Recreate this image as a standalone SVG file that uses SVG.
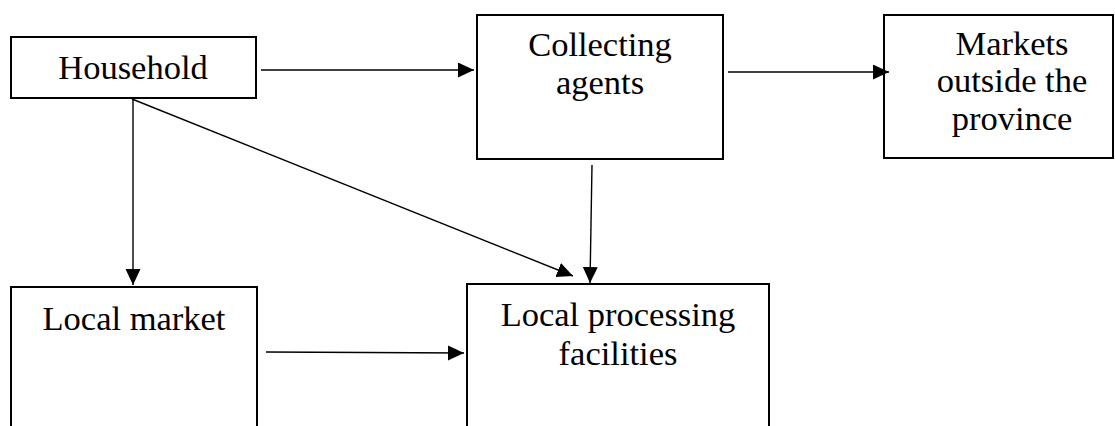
<svg xmlns="http://www.w3.org/2000/svg" width="1115" height="426" viewBox="0 0 1115 426">
<style>
.box{fill:#fff;stroke:#000;stroke-width:2}
.t{font-family:"Liberation Serif","Times New Roman",serif;font-size:34.5px;fill:#000;text-anchor:middle}
.c{stroke:#000;stroke-width:1.4;fill:none;marker-end:url(#ah)}
</style>
<defs>
<marker id="ah" markerUnits="userSpaceOnUse" markerWidth="17" markerHeight="16" refX="16" refY="7.5" orient="auto">
<path d="M0,0 L16,7.5 L0,15 Z" fill="#000"/>
</marker>
</defs>
<rect width="1115" height="426" fill="#fff"/>
<g id="household">
<rect class="box" x="11" y="37" width="245" height="61"/>
<text class="t" x="133" y="79">Household</text>
</g>
<g id="collecting-agents">
<rect class="box" x="477" y="15" width="246" height="144"/>
<text class="t" x="600" y="56">Collecting</text>
<text class="t" x="600" y="94">agents</text>
</g>
<g id="markets-outside">
<rect class="box" x="884" y="15" width="229" height="143"/>
<text class="t" x="1012" y="55">Markets</text>
<text class="t" x="1012" y="92">outside the</text>
<text class="t" x="1012" y="130">province</text>
</g>
<g id="local-market">
<rect class="box" x="11" y="287" width="246" height="150"/>
<text class="t" x="134" y="330">Local market</text>
</g>
<g id="local-processing">
<rect class="box" x="467" y="284" width="302" height="153"/>
<text class="t" x="618" y="326">Local processing</text>
<text class="t" x="618" y="365">facilities</text>
</g>
<g id="connectors">
<line class="c" x1="261" y1="70" x2="474" y2="70"/>
<line class="c" x1="728" y1="72" x2="889" y2="72"/>
<line class="c" x1="133" y1="99" x2="133" y2="285"/>
<line class="c" x1="132" y1="99" x2="573" y2="276"/>
<line class="c" x1="592" y1="165" x2="590" y2="283"/>
<line class="c" x1="266" y1="352" x2="464" y2="353"/>
</g>
</svg>
